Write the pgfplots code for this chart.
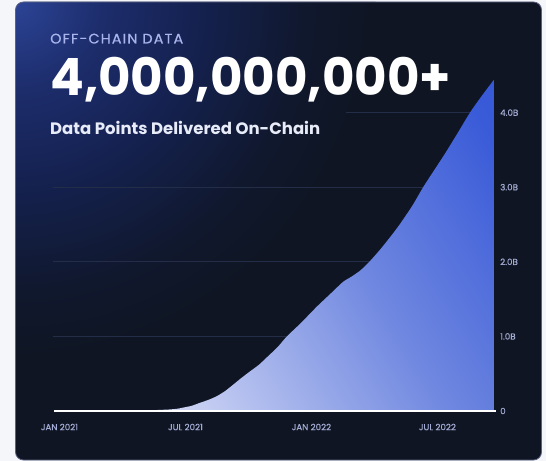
\documentclass[border=0pt]{standalone}
\usepackage{fontspec}
\setmainfont{Poppins}
\usepackage{graphicx}
\usepackage{pgfplots}
\pgfplotsset{compat=1.18}
\definecolor{pagebg}{HTML}{F5F6FA}
\definecolor{cardbg}{HTML}{0F1522}
\definecolor{cardedge}{HTML}{5B6283}
\definecolor{glowA}{HTML}{2C4496}
\definecolor{glowB}{HTML}{1D2D6C}
\definecolor{glowC}{HTML}{152252}
\definecolor{glowD}{HTML}{10182E}
\definecolor{gridc}{HTML}{242D47}
\definecolor{ticklab}{HTML}{A3ACD4}
\definecolor{eyebrow}{HTML}{A9B4EC}
\definecolor{subt}{HTML}{E8EBF8}
\definecolor{f0}{RGB}{236,239,252}
\definecolor{f1}{RGB}{234,236,250}
\definecolor{f2}{RGB}{200,208,243}
\definecolor{f3}{RGB}{112,136,224}
\definecolor{f4}{RGB}{58,91,216}
\definecolor{f5}{RGB}{48,82,212}
\pgfdeclareverticalshading{areafill}{100bp}{color(0bp)=(f0); color(20bp)=(f1); color(30.5bp)=(f2); color(57.5bp)=(f3); color(80.5bp)=(f4); color(100bp)=(f5)}
\pgfdeclareradialshading{glow}{\pgfpoint{0bp}{0bp}}{color(0bp)=(glowA); color(6bp)=(glowB); color(12bp)=(glowC); color(20bp)=(glowD); color(25bp)=(cardbg); color(50bp)=(cardbg)}
\pgfplotstableread{
m v
-0.26 0.0
0.5 0.001
1.5 0.003
2.5 0.005
3.5 0.008
4.5 0.012
5.2 0.02
5.6 0.03
5.88 0.045
6.3 0.07
6.69 0.11
7.1 0.15
7.5 0.20
7.9 0.27
8.26 0.35
8.65 0.44
9.07 0.53
9.5 0.62
9.88 0.72
10.4 0.86
10.83 1.0
11.5 1.18
12.26 1.40
12.9 1.57
13.5 1.73
13.9 1.80
14.31 1.88
14.69 1.98
15.26 2.16
15.8 2.35
16.2 2.50
16.8 2.75
17.32 3.0
17.85 3.23
18.36 3.45
18.95 3.72
19.55 4.0
20.1 4.22
20.69 4.44
}\datatable
\begin{document}
\begin{tikzpicture}
\begin{scope}[x=1bp,y=-1bp]
\fill[pagebg] (0,0) rectangle (546,461);
\begin{scope}
\clip[rounded corners=8bp] (15.5,2) rectangle (541.5,460);
\fill[cardbg] (0,0) rectangle (546,461);
\shade[shading=glow] (15.5,2) circle (360bp);
\end{scope}
\draw[cardedge, line width=0.8bp, rounded corners=8bp] (15.5,2) rectangle (541.5,460);
\node[anchor=base west, inner sep=0pt, text=eyebrow] at (50,43.5) {\resizebox{133bp}{9.8bp}{\addfontfeature{LetterSpace=8,FakeBold=0.8}OFF-CHAIN DATA}};
\node[anchor=base west, inner sep=0pt, text=white] at (50,95.7) {\resizebox{401bp}{38.3bp}{\bfseries 4,000,000,000+}};
\node[anchor=base west, inner sep=0pt, text=subt] at (50,135) {\resizebox{270bp}{!}{\bfseries Data Points Delivered On-Chain}};
\end{scope}
\begin{axis}[
  at={(54bp,-411bp)}, anchor=south west,
  scale only axis, width=442bp, height=335.7bp,
  xmin=-0.26, xmax=20.79, ymin=0, ymax=4.5,
  axis line style={draw=none}, tick style={draw=none},
  xtick={0,6,12,18}, xticklabels={JAN 2021,JUL 2021,JAN 2022,JUL 2022},
  ytick={0,1,2,3,4}, yticklabels={0,1.0B,2.0B,3.0B,4.0B},
  ytick pos=right, yticklabel pos=right,
  ticklabel style={font=\fontsize{8.7bp}{10bp}\selectfont\addfontfeature{FakeBold=0.6}, text=ticklab, inner sep=0pt},
  xticklabel style={anchor=center, yshift=-16bp},
  yticklabel style={anchor=west, xshift=4bp},
  clip=false,
]
\draw[gridc, line width=0.8bp] (axis cs:-0.31,1) -- (axis cs:20.69,1);
\draw[gridc, line width=0.8bp] (axis cs:-0.31,2) -- (axis cs:20.69,2);
\draw[gridc, line width=0.8bp] (axis cs:-0.31,3) -- (axis cs:20.69,3);
\draw[gridc, line width=0.8bp] (axis cs:13.64,4) -- (axis cs:20.69,4);
\addplot[draw=none, smooth, tension=0.4, shade, shading=areafill, shading angle=-58] table[x=m, y=v] {\datatable} \closedcycle;
\draw[white, line width=1.3bp] (axis cs:-0.26,0) -- (axis cs:20.79,0);
\end{axis}
\end{tikzpicture}
\end{document}
